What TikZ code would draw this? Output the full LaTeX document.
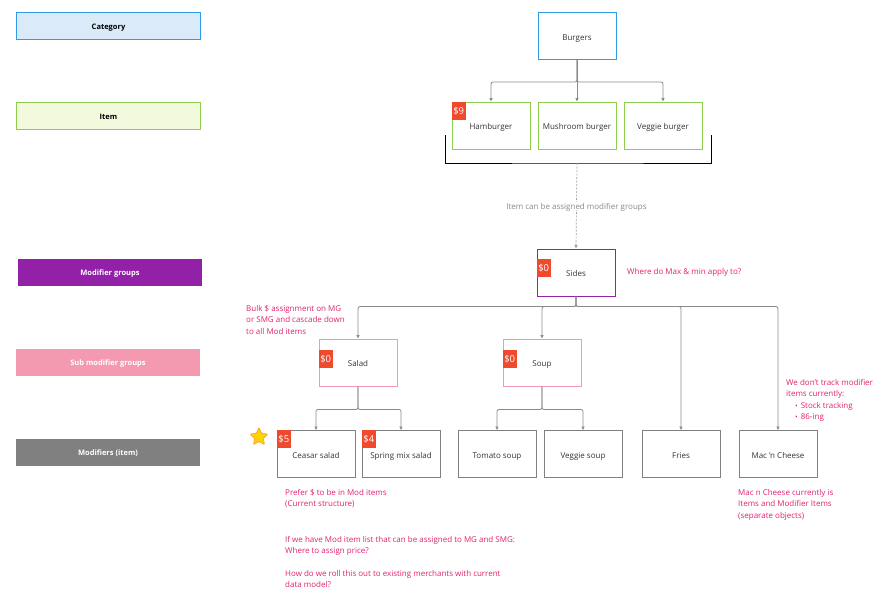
\documentclass[tikz,border=0pt]{standalone}
\usepackage{fontspec}
\setmainfont{Open Sans}
\usetikzlibrary{arrows.meta,shapes.geometric}
\definecolor{catblue}{HTML}{2F9BE8}
\definecolor{catfill}{HTML}{DBEAF9}
\definecolor{itemgreen}{HTML}{8CCF4D}
\definecolor{itemfill}{HTML}{F3F9DC}
\definecolor{mgpurple}{HTML}{9321A8}
\definecolor{smgpink}{HTML}{F49AB0}
\definecolor{modgray}{HTML}{808080}
\definecolor{badgered}{HTML}{F04A2E}
\definecolor{notepink}{HTML}{E2216E}
\definecolor{linegray}{HTML}{8A8A8A}
\tikzset{
  legend/.style={minimum width=184pt, minimum height=27pt, inner sep=0pt,
    text height=6.5pt, text depth=0pt,
    font=\fontsize{7.5}{9}\selectfont\bfseries},
  box/.style={draw, minimum width=78pt, minimum height=47pt, inner sep=0pt,
    text height=8.5pt, text depth=0pt,
    font=\fontsize{8}{10}\selectfont, text=black!80},
  badge/.style={fill=badgered, text=white, anchor=north west, minimum width=14pt,
    minimum height=18pt, inner sep=0pt, font=\fontsize{9.5}{10}\selectfont},
  note/.style={anchor=north west, align=left, inner sep=0pt, text=notepink,
    font=\fontsize{8}{11.5}\selectfont},
  conn/.style={draw=linegray, line width=0.8pt, rounded corners=2pt,
    -{Triangle[length=3.5pt,width=3pt]}},
}
\begin{document}
\begin{tikzpicture}[x=1pt,y=-1pt]
\useasboundingbox (0,0) rectangle (881,592);

% legend
\node[legend, fill=catfill, draw=catblue, line width=1.5pt] (lcat) at (108.5,26) {Category};
\node[legend, fill=itemfill, draw=itemgreen, line width=1.5pt] (litem) at (108.5,116) {Item};
\node[legend, fill=mgpurple, text=white] (lmg) at (110,272.5) {Modifier groups};
\node[legend, fill=smgpink, text=white] (lsmg) at (108,362.5) {Sub modifier groups};
\node[legend, fill=modgray, text=white] (lmod) at (108,452.5) {Modifiers (item)};

% category and items
\node[box, draw=catblue, line width=1pt] (burgers) at (577,36) {Burgers};
\node[box, draw=itemgreen, line width=1pt] (ham) at (491,125.5) {Hamburger};
\node[box, draw=itemgreen, line width=1pt] (mush) at (577,125.5) {Mushroom burger};
\node[box, draw=itemgreen, line width=1pt] (veg) at (663,125.5) {Veggie burger};
\node[badge] (pham) at (ham.north west) {\$9};

\draw[conn] (burgers.south) -- ++(0,22) -| (ham.north);
\draw[conn] (burgers.south) -- (mush.north);
\draw[conn] (burgers.south) -- ++(0,22) -| (veg.north);

% bracket
\coordinate (brk) at (577,163);
\draw[line width=1pt] (445,135) |- (brk) -| (711,135);

% modifier group
\node[box, draw=mgpurple, line width=1pt] (sides) at (576,272.5) {Sides};
\node[badge] (psides) at ([yshift=-10pt]sides.north west) {\$0};
\draw[linegray!80, line width=0.7pt, dash pattern=on 2pt off 1.5pt,
  -{Triangle[length=3.5pt,width=3pt]}] (brk) -- (sides.north)
  node[pos=0.5, fill=white, inner sep=1pt, text height=6.5pt, text depth=0pt, text=linegray,
  font=\fontsize{8}{10}\selectfont] (assign) {Item can be assigned modifier groups};

% sub modifier groups
\node[box, draw=smgpink, line width=1pt] (salad) at (358,362.5) {Salad};
\node[box, draw=smgpink, line width=1pt] (soup) at (542,362.5) {Soup};
\node[badge] (psalad) at ([yshift=-11pt]salad.north west) {\$0};
\node[badge] (psoup) at ([yshift=-11pt]soup.north west) {\$0};

% modifiers
\node[box, draw=modgray, line width=0.8pt] (ceasar) at (316,454) {Ceasar salad};
\node[box, draw=modgray, line width=0.8pt] (spring) at (401,454) {Spring mix salad};
\node[box, draw=modgray, line width=0.8pt] (tomato) at (497,454) {Tomato soup};
\node[box, draw=modgray, line width=0.8pt] (vsoup) at (583,454) {Veggie soup};
\node[box, draw=modgray, line width=0.8pt] (fries) at (681,454) {Fries};
\node[box, draw=modgray, line width=0.8pt] (mac) at (778,454) {Mac 'n Cheese};
\node[badge] (pceasar) at (ceasar.north west) {\$5};
\node[badge] (pspring) at (spring.north west) {\$4};
\node[star, star points=5, star point ratio=2.1, minimum size=19pt, inner sep=0pt,
  fill=yellow!70!orange, draw=orange!80, line width=0.6pt, rounded corners=1pt] (star) at (259,437) {};

\draw[conn] (sides.south) -- ++(0,10) -| (salad.north);
\draw[conn] (sides.south) -- ++(0,10) -| (soup.north);
\draw[conn] (sides.south) -- ++(0,10) -| (fries.north);
\draw[conn] (sides.south) -- ++(0,10) -| (mac.north);
\draw[conn] (salad.south) -- ++(0,23) -| (ceasar.north);
\draw[conn] (salad.south) -- ++(0,23) -| (spring.north);
\draw[conn] (soup.south) -- ++(0,23) -| (tomato.north);
\draw[conn] (soup.south) -- ++(0,23) -| (vsoup.north);

% notes
\node[note, anchor=west] (nmax) at (627,272) {Where do Max \& min apply to?};
\node[note] (nbulk) at (246,305) {Bulk \$ assignment on MG\\or SMG and cascade down\\to all Mod items};
\node[note] (nprefer) at (285,489) {Prefer \$ to be in Mod items\\(Current structure)};
\node[note] (nassign) at (285,536) {If we have Mod item list that can be assigned to MG and SMG:\\Where to assign price?};
\node[note] (nroll) at (285,570) {How do we roll this out to existing merchants with current\\data model?};
\node[note] (ntrack) at (786,379) {We don't track modifier\\items currently:\\\hspace*{9pt}{\scriptsize\textbullet}\hspace{3pt}Stock tracking\\\hspace*{9pt}{\scriptsize\textbullet}\hspace{3pt}86-ing};
\node[note] (nmac) at (738,489) {Mac n Cheese currently is\\Items and Modifier Items\\(separate objects)};
\end{tikzpicture}
\end{document}
